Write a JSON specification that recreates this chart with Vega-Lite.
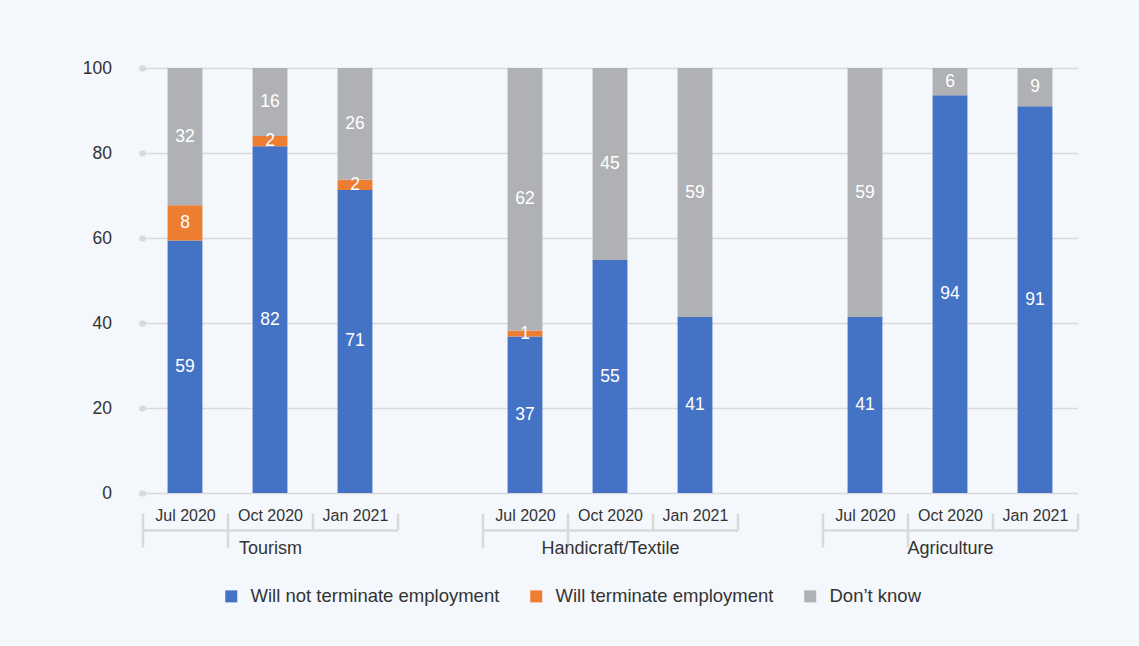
{
  "$schema": "https://vega.github.io/schema/vega-lite/v6.json",
  "width": 935,
  "height": 425,
  "autosize": {"type": "none"},
  "padding": {"left": 142.5, "top": 68, "right": 61.5, "bottom": 153},
  "background": "#f4f8fc",
  "config": {
    "view": {"stroke": null},
    "font": "Liberation Sans"
  },
  "data": {
    "values": [
      {"group": "Tourism", "period": "Jul 2020", "cat": "Tourism|Jul 2020", "series": "Will not terminate employment", "rank": 1, "value": 59.4},
      {"group": "Tourism", "period": "Jul 2020", "cat": "Tourism|Jul 2020", "series": "Will terminate employment", "rank": 2, "value": 8.3},
      {"group": "Tourism", "period": "Jul 2020", "cat": "Tourism|Jul 2020", "series": "Don’t know", "rank": 3, "value": 32.3},
      {"group": "Tourism", "period": "Oct 2020", "cat": "Tourism|Oct 2020", "series": "Will not terminate employment", "rank": 1, "value": 81.6},
      {"group": "Tourism", "period": "Oct 2020", "cat": "Tourism|Oct 2020", "series": "Will terminate employment", "rank": 2, "value": 2.4},
      {"group": "Tourism", "period": "Oct 2020", "cat": "Tourism|Oct 2020", "series": "Don’t know", "rank": 3, "value": 16.0},
      {"group": "Tourism", "period": "Jan 2021", "cat": "Tourism|Jan 2021", "series": "Will not terminate employment", "rank": 1, "value": 71.3},
      {"group": "Tourism", "period": "Jan 2021", "cat": "Tourism|Jan 2021", "series": "Will terminate employment", "rank": 2, "value": 2.4},
      {"group": "Tourism", "period": "Jan 2021", "cat": "Tourism|Jan 2021", "series": "Don’t know", "rank": 3, "value": 26.3},
      {"group": "Handicraft/Textile", "period": "Jul 2020", "cat": "Handicraft/Textile|Jul 2020", "series": "Will not terminate employment", "rank": 1, "value": 36.8},
      {"group": "Handicraft/Textile", "period": "Jul 2020", "cat": "Handicraft/Textile|Jul 2020", "series": "Will terminate employment", "rank": 2, "value": 1.45},
      {"group": "Handicraft/Textile", "period": "Jul 2020", "cat": "Handicraft/Textile|Jul 2020", "series": "Don’t know", "rank": 3, "value": 61.75},
      {"group": "Handicraft/Textile", "period": "Oct 2020", "cat": "Handicraft/Textile|Oct 2020", "series": "Will not terminate employment", "rank": 1, "value": 54.8},
      {"group": "Handicraft/Textile", "period": "Oct 2020", "cat": "Handicraft/Textile|Oct 2020", "series": "Don’t know", "rank": 3, "value": 45.2},
      {"group": "Handicraft/Textile", "period": "Jan 2021", "cat": "Handicraft/Textile|Jan 2021", "series": "Will not terminate employment", "rank": 1, "value": 41.4},
      {"group": "Handicraft/Textile", "period": "Jan 2021", "cat": "Handicraft/Textile|Jan 2021", "series": "Don’t know", "rank": 3, "value": 58.6},
      {"group": "Agriculture", "period": "Jul 2020", "cat": "Agriculture|Jul 2020", "series": "Will not terminate employment", "rank": 1, "value": 41.4},
      {"group": "Agriculture", "period": "Jul 2020", "cat": "Agriculture|Jul 2020", "series": "Don’t know", "rank": 3, "value": 58.6},
      {"group": "Agriculture", "period": "Oct 2020", "cat": "Agriculture|Oct 2020", "series": "Will not terminate employment", "rank": 1, "value": 93.6},
      {"group": "Agriculture", "period": "Oct 2020", "cat": "Agriculture|Oct 2020", "series": "Don’t know", "rank": 3, "value": 6.4},
      {"group": "Agriculture", "period": "Jan 2021", "cat": "Agriculture|Jan 2021", "series": "Will not terminate employment", "rank": 1, "value": 91.0},
      {"group": "Agriculture", "period": "Jan 2021", "cat": "Agriculture|Jan 2021", "series": "Don’t know", "rank": 3, "value": 9.0}
    ]
  },
  "layer": [
    {
      "mark": {"type": "bar", "width": {"band": 0.41}},
      "encoding": {
        "x": {
          "field": "cat", "type": "nominal",
          "scale": {
            "domain": ["Tourism|Jul 2020", "Tourism|Oct 2020", "Tourism|Jan 2021", "s1",
                       "Handicraft/Textile|Jul 2020", "Handicraft/Textile|Oct 2020", "Handicraft/Textile|Jan 2021", "s2",
                       "Agriculture|Jul 2020", "Agriculture|Oct 2020", "Agriculture|Jan 2021"],
            "paddingInner": 0, "paddingOuter": 0
          },
          "axis": {
            "orient": "bottom", "offset": 20, "title": null, "domain": false, "grid": false,
            "tickBand": "extent", "ticks": true, "tickSize": 17, "tickColor": "#d9d9d9", "tickWidth": 2.5,
            "labelExpr": "indexof('' + datum.value, '|') > 0 ? split('' + datum.value, '|')[1] : ''",
            "labelBaseline": "middle", "labelPadding": -14.5, "labelFontSize": 16,
            "labelColor": "#333333", "labelAngle": 0
          }
        },
        "y": {
          "field": "value", "type": "quantitative", "stack": "zero",
          "scale": {"domain": [0, 100]},
          "axis": {
            "title": null, "values": [0, 20, 40, 60, 80, 100],
            "grid": true, "gridColor": "#d9d9d9", "gridWidth": 1.5, "domain": false,
            "tickSize": 1, "tickWidth": 6, "tickCap": "round", "tickColor": "#d9d9d9",
            "labelPadding": 30, "labelFontSize": 17.5, "labelColor": "#333333"
          }
        },
        "color": {
          "field": "series", "type": "nominal",
          "scale": {
            "domain": ["Will not terminate employment", "Will terminate employment", "Don’t know"],
            "range": ["#4472c4", "#ed7d31", "#b0b1b4"]
          },
          "legend": {
            "orient": "none", "legendX": 79.5, "legendY": 519, "direction": "horizontal",
            "title": null, "symbolType": "square", "symbolSize": 144, "symbolStrokeWidth": 0,
            "labelFontSize": 18.5, "labelColor": "#333333", "labelOffset": 10,
            "columnPadding": 27, "labelLimit": 400
          }
        },
        "order": {"field": "rank", "type": "quantitative"}
      }
    },
    {
      "mark": {"type": "text", "color": "white", "fontSize": 17.5},
      "encoding": {
        "x": {
          "field": "cat", "type": "nominal",
          "axis": {
            "orient": "bottom", "offset": 37, "title": null, "grid": false,
            "domain": true, "domainColor": "#d9d9d9", "domainWidth": 2.5, "domainDash": [255, 85],
            "tickBand": "extent", "ticks": true, "tickSize": 17, "tickColor": "#d9d9d9", "tickWidth": 2.5,
            "tickOpacity": {"condition": {"test": "!isString(datum.value) || indexof(['Tourism|Jul 2020','s1','Handicraft/Textile|Jul 2020','s2','Agriculture|Jul 2020'], datum.value) >= 0", "value": 1}, "value": 0},
            "labelExpr": "indexof('' + datum.value, 'Oct 2020') > 0 ? split('' + datum.value, '|')[0] : ''",
            "labelBaseline": "middle", "labelPadding": 1, "labelFontSize": 18,
            "labelColor": "#333333", "labelAngle": 0
          }
        },
        "y": {
          "field": "value", "type": "quantitative", "stack": "zero", "bandPosition": 0.5,
          "axis": {
            "title": null, "values": [0, 20, 40, 60, 80, 100],
            "grid": true, "gridColor": "#d9d9d9", "gridWidth": 1.5, "domain": false,
            "tickSize": 1, "tickWidth": 6, "tickCap": "round", "tickColor": "#d9d9d9",
            "labelPadding": 30, "labelFontSize": 17.5, "labelColor": "#333333"
          }
        },
        "detail": {"field": "series", "type": "nominal"},
        "order": {"field": "rank", "type": "quantitative"},
        "text": {"field": "value", "type": "quantitative", "format": ".0f"}
      }
    }
  ],
  "resolve": {"axis": {"x": "independent"}}
}
